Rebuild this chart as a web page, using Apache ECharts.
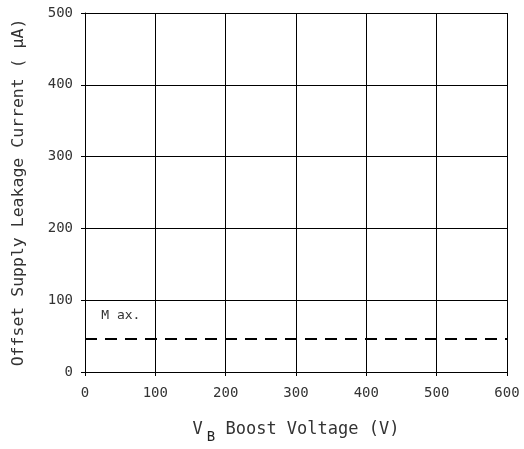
<!DOCTYPE html>
<html><head><meta charset="utf-8">
<script src="https://cdn.jsdelivr.net/npm/echarts@6/dist/echarts.min.js"></script>
<style>html,body{margin:0;padding:0;background:#fff}#c{width:524px;height:449px}</style>
</head><body><div id="c"></div>
<script>
const xTicks = [0, 100, 200, 300, 400, 500, 600];
const yTicks = [0, 100, 200, 300, 400, 500];
const maxLineX = [0, 600];
const maxLineY = [46, 46];
const maxLabel = { text: 'M ax.', x: 51, y: 78 };
const xTitle = 'Boost Voltage (V)';
const yTitle = 'Offset Supply Leakage Current ( μA)';

const chart = echarts.init(document.getElementById('c'));
const font = 'DejaVu Sans Mono';
chart.setOption({
  animation: false,
  grid: { left: 85, right: 17, top: 13, bottom: 77, outerBoundsMode: 'none', containLabel: false },
  xAxis: {
    type: 'value', min: xTicks[0], max: xTicks[xTicks.length - 1], interval: 100,
    axisLine: { show: true, lineStyle: { color: '#000', width: 1 } },
    axisTick: { show: true, length: 4, lineStyle: { color: '#000' } },
    splitLine: { show: true, lineStyle: { color: '#000', width: 1 } },
    axisLabel: { color: '#333', fontFamily: font, fontSize: 14, margin: 14 },
    name: '{v|V}{s|B} ' + xTitle,
    nameLocation: 'middle', nameGap: 44,
    nameTextStyle: {
      color: '#333', fontFamily: font, fontSize: 17,
      rich: {
        v: { fontFamily: font, fontSize: 17, color: '#333' },
        s: { fontFamily: font, fontSize: 14, color: '#222', verticalAlign: 'bottom', padding: [14, 0, 0, 4] }
      }
    }
  },
  yAxis: {
    type: 'value', min: yTicks[0], max: yTicks[yTicks.length - 1], interval: 100,
    axisLine: { show: true, lineStyle: { color: '#000', width: 1 } },
    axisTick: { show: true, length: 4, lineStyle: { color: '#000' } },
    splitLine: { show: true, lineStyle: { color: '#000', width: 1 } },
    axisLabel: { color: '#333', fontFamily: font, fontSize: 14, margin: 12 },
    name: yTitle, nameLocation: 'middle', nameGap: 58, nameRotate: 90,
    nameTextStyle: { color: '#333', fontFamily: font, fontSize: 16.5 }
  },
  series: [{
    type: 'line',
    data: maxLineX.map((x, i) => [x, maxLineY[i]]),
    symbol: 'none',
    lineStyle: { color: '#000', width: 2, type: [12, 8] },
    markPoint: {
      symbol: 'circle', symbolSize: 0,
      data: [{ coord: [maxLabel.x, maxLabel.y] }],
      label: { show: true, formatter: maxLabel.text, color: '#333', fontFamily: font, fontSize: 13, position: 'inside' }
    }
  }]
});
</script></body></html>
